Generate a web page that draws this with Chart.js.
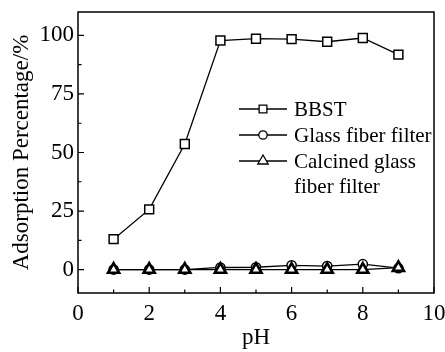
<!DOCTYPE html>
<html>
<head>
<meta charset="utf-8">
<script src="https://cdn.jsdelivr.net/npm/chart.js@4/dist/chart.umd.min.js"></script>
<style>
  html, body { margin: 0; padding: 0; background: #fff; }
  #wrap { width: 445px; height: 352px; }
</style>
</head>
<body>
<div id="wrap"><canvas id="chart" width="445" height="352"></canvas></div>
<script>
// data
const phValues = [1, 2, 3, 4, 5, 6, 7, 8, 9];
const bbst = [13, 25.7, 53.6, 97.8, 98.6, 98.4, 97.3, 98.9, 91.8];
const glassFiber = [0, 0, 0, 0.9, 1.0, 1.8, 1.5, 2.3, 0.6];
const calcinedGlass = [0, 0, 0, 0, 0, 0, 0, 0, 0.8];

const seriesNames = ["BBST", "Glass fiber filter", ["Calcined glass", "fiber filter"]];
const xTicks = [0, 2, 4, 6, 8, 10];
const yTicks = [0, 25, 50, 75, 100];

const serif = "'Liberation Serif', 'Times New Roman', serif";

function toPoints(values) {
  return phValues.map((x, i) => ({ x: x, y: values[i] }));
}

// frame + inward ticks (major and minor)
const framePlugin = {
  id: "frame",
  afterDatasetsDraw(chart) {
    const ctx = chart.ctx;
    const a = chart.chartArea;
    const xs = chart.scales.x;
    const ys = chart.scales.y;
    ctx.save();
    ctx.strokeStyle = "#000";
    ctx.lineWidth = 1.5;
    ctx.strokeRect(a.left, a.top, a.right - a.left, a.bottom - a.top);
    ctx.lineWidth = 1.2;
    ctx.beginPath();
    for (let v = 0; v <= 10; v += 1) {
      const px = xs.getPixelForValue(v);
      const len = v % 2 === 0 ? 6 : 3.5;
      ctx.moveTo(px, a.bottom);
      ctx.lineTo(px, a.bottom - len);
    }
    for (let v = 0; v <= 100; v += 12.5) {
      const py = ys.getPixelForValue(v);
      const len = v % 25 === 0 ? 6 : 3.5;
      ctx.moveTo(a.left, py);
      ctx.lineTo(a.left + len, py);
    }
    ctx.stroke();
    ctx.restore();
  }
};

// legend drawn inside the plot
const legendPlugin = {
  id: "innerLegend",
  afterDraw(chart) {
    const ctx = chart.ctx;
    const rows = [109, 135, 161];
    const sizes = [5.5, 4.2, 6];
    ctx.save();
    ctx.font = "21px " + serif;
    ctx.textBaseline = "middle";
    chart.data.datasets.forEach((ds, i) => {
      const y = rows[i];
      ctx.strokeStyle = "#000";
      ctx.lineWidth = 1.3;
      ctx.beginPath();
      ctx.moveTo(239, y);
      ctx.lineTo(287, y);
      ctx.stroke();
      ctx.fillStyle = "#fff";
      ctx.strokeStyle = "#000";
      Chart.helpers.drawPoint(ctx, {
        pointStyle: ds.pointStyle,
        radius: sizes[i],
        borderWidth: ds.pointBorderWidth,
        rotation: 0
      }, 263, y);
      ctx.fillStyle = "#000";
      const name = seriesNames[i];
      const lines = Array.isArray(name) ? name : [name];
      lines.forEach((t, j) => ctx.fillText(t, 294, y + 1 + j * 25));
    });
    ctx.restore();
  }
};

function makeSet(label, values, style, radius, bw, order) {
  return {
    label: label,
    data: toPoints(values),
    order: order,
    borderColor: "#000",
    borderWidth: 1.3,
    pointStyle: style,
    pointRadius: radius,
    pointBorderWidth: bw,
    pointBackgroundColor: "#fff",
    pointBorderColor: "#000",
    tension: 0
  };
}

function noPad(s) {
  s.paddingTop = 0;
  s.paddingBottom = 0;
  s.paddingLeft = 0;
  s.paddingRight = 0;
}

new Chart(document.getElementById("chart"), {
  type: "line",
  data: {
    datasets: [
      makeSet("BBST", bbst, "rect", 6.3, 1.5, 2),
      makeSet("Glass fiber filter", glassFiber, "circle", 4.6, 1.5, 1),
      makeSet("Calcined glass fiber filter", calcinedGlass, "triangle", 6.4, 2.6, 0)
    ]
  },
  options: {
    responsive: false,
    animation: false,
    layout: { padding: { top: 12, right: 11, left: 0, bottom: 0 } },
    plugins: { legend: { display: false }, tooltip: { enabled: false } },
    scales: {
      x: {
        type: "linear",
        min: 0,
        max: 10,
        grid: { display: false, drawTicks: false },
        border: { display: false },
        afterBuildTicks: (s) => { s.ticks = xTicks.map(v => ({ value: v })); },
        afterFit: (s) => { s.height = 59; noPad(s); },
        ticks: { color: "#000", font: { family: serif, size: 23 }, padding: 7, maxRotation: 0 },
        title: { display: true, text: "pH", color: "#000", font: { family: serif, size: 23 }, padding: { top: 0, bottom: 0 } }
      },
      y: {
        min: -10,
        max: 110,
        grid: { display: false, drawTicks: false },
        border: { display: false },
        afterBuildTicks: (s) => { s.ticks = yTicks.map(v => ({ value: v })); },
        afterFit: (s) => { s.width = 78; noPad(s); },
        ticks: { color: "#000", font: { family: serif, size: 23 }, padding: 4 },
        title: { display: true, text: "Adsorption Percentage/%", color: "#000", font: { family: serif, size: 23 }, padding: { top: 8, bottom: 0 } }
      }
    }
  },
  plugins: [framePlugin, legendPlugin]
});
</script>
</body>
</html>
